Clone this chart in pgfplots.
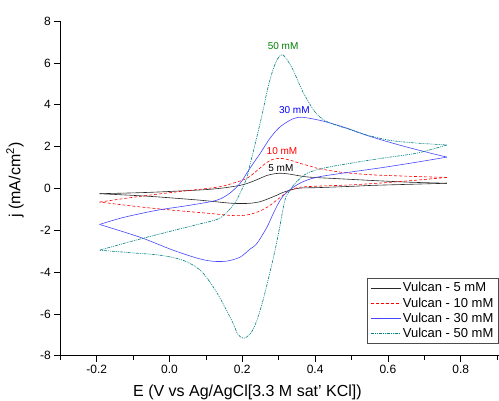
\documentclass[border=0pt]{standalone}
\usepackage{pgfplots}
\pgfplotsset{compat=1.18}
\usepackage{fontspec}
\setmainfont{Liberation Sans}
\definecolor{cvteal}{RGB}{0,128,128}
\definecolor{cvgreen}{RGB}{0,128,0}
\definecolor{cvblue}{RGB}{70,70,255}
\definecolor{cvblack}{RGB}{40,40,40}
\begin{document}
\begin{tikzpicture}
\begin{axis}[
  x=364pt, y=20.92pt,
  xmin=-0.3, xmax=1.0, ymin=-8, ymax=8,
  axis x line=bottom, axis y line=left,
  axis line style={-, line width=1pt, black},
  xtick={-0.2,0,0.2,0.4,0.6,0.8},
  minor xtick={-0.3,-0.1,0.1,0.3,0.5,0.7,0.9},
  ytick={-8,-6,-4,-2,0,2,4,6,8},
  tick align=outside,
  major tick length=6pt, minor tick length=4pt,
  tick style={line width=0.8pt, black},
  xticklabel style={/pgf/number format/.cd, fixed, fixed zerofill, precision=1},
  /pgf/number format/assume math mode=true,
  ticklabel style={font=\fontsize{12}{14}\selectfont},
  xlabel={E (V vs Ag/AgCl[3.3 M sat' KCl])},
  ylabel={j (mA/cm\textsuperscript{2})},
  xlabel style={at={(axis description cs:0.3954,-0.1206)}, anchor=base, font=\fontsize{16}{19}\selectfont},
  ylabel style={at={(axis description cs:-0.0958,0.525)}, anchor=center, font=\fontsize{16}{19}\selectfont},
  legend style={at={(axis description cs:0.6482,0.2319)}, anchor=north west,
    draw=black!70, font=\fontsize{13}{15}\selectfont, row sep=0.3pt},
  legend cell align=left,
  legend image code/.code={\draw[#1] plot coordinates {(0pt,0pt) (15pt,0pt) (30pt,0pt)};},
]
% 5 mM
\addplot[color=cvblack, line width=0.6pt, smooth] coordinates {
(-0.192,-0.25) (-0.1,-0.21) (-0.034,-0.17) (0.05,-0.1) (0.103,-0.05) (0.15,0.03) (0.194,0.15) (0.215,0.25) (0.24,0.42) (0.267,0.62) (0.29,0.71) (0.304,0.73) (0.325,0.7) (0.359,0.6) (0.386,0.54) (0.45,0.48) (0.56,0.38) (0.66,0.3) (0.762,0.25)};
\addlegendentry{Vulcan - 5 mM}
\addplot[color=cvblack, line width=0.6pt, smooth, forget plot] coordinates {
(0.762,0.25) (0.66,0.2) (0.56,0.15) (0.496,0.1) (0.405,0.04) (0.359,0.02) (0.331,-0.08) (0.31,-0.2) (0.295,-0.32) (0.27,-0.5) (0.249,-0.63) (0.225,-0.7) (0.202,-0.72) (0.166,-0.7) (0.084,-0.56) (-0.034,-0.4) (-0.1,-0.33) (-0.192,-0.25)};
% 10 mM
\addplot[color=red, line width=0.6pt, smooth, dash pattern=on 3pt off 2pt] coordinates {
(-0.192,-0.65) (-0.1,-0.42) (0.01,-0.18) (0.13,0.06) (0.174,0.25) (0.213,0.49) (0.24,0.85) (0.26,1.15) (0.28,1.37) (0.304,1.44) (0.33,1.36) (0.359,1.2) (0.386,1.07) (0.405,0.97) (0.45,0.83) (0.496,0.73) (0.56,0.65) (0.587,0.63) (0.68,0.57) (0.762,0.53)};
\addlegendentry{Vulcan - 10 mM}
\addplot[color=red, line width=0.6pt, smooth, dash pattern=on 3pt off 2pt, forget plot] coordinates {
(0.762,0.53) (0.68,0.4) (0.587,0.27) (0.496,0.17) (0.405,0.11) (0.359,0.06) (0.331,-0.08) (0.31,-0.35) (0.29,-0.62) (0.27,-0.88) (0.245,-1.1) (0.22,-1.24) (0.2,-1.29) (0.17,-1.29) (0.103,-1.18) (0.01,-1.04) (-0.081,-0.88) (-0.192,-0.65)};
% 30 mM
\addplot[color=cvblue, line width=0.6pt, smooth] coordinates {
(-0.192,-1.72) (-0.128,-1.39) (-0.034,-1.04) (0.056,-0.8) (0.13,-0.56) (0.166,-0.22) (0.194,0.25) (0.213,0.75) (0.232,1.25) (0.25,1.7) (0.276,2.4) (0.304,2.95) (0.339,3.33) (0.367,3.4) (0.422,3.22) (0.488,2.88) (0.545,2.52) (0.635,2.06) (0.717,1.69) (0.762,1.5)};
\addlegendentry{Vulcan - 30 mM}
\addplot[color=cvblue, line width=0.6pt, smooth, forget plot] coordinates {
(0.762,1.5) (0.68,1.26) (0.585,1.0) (0.495,0.78) (0.405,0.54) (0.358,0.25) (0.322,-0.18) (0.304,-0.56) (0.285,-1.2) (0.268,-1.84) (0.24,-2.63) (0.221,-2.9) (0.194,-3.28) (0.158,-3.47) (0.12,-3.48) (0.08,-3.35) (0.01,-2.95) (-0.081,-2.33) (-0.192,-1.72)};
% 50 mM
\addplot[color=cvteal, line width=0.6pt, smooth, dash pattern=on 3pt off 1pt on 1pt off 1pt on 1pt off 1pt] coordinates {
(-0.192,-2.95) (-0.099,-2.5) (0.001,-2.05) (0.07,-1.75) (0.138,-1.42) (0.175,-0.8) (0.186,-0.5) (0.2,0.0) (0.213,0.55) (0.222,1.2) (0.24,2.47) (0.257,3.74) (0.27,4.8) (0.284,5.66) (0.297,6.2) (0.31,6.4) (0.325,6.1) (0.34,5.65) (0.355,5.05) (0.37,4.5) (0.4,3.65) (0.432,3.2) (0.495,2.82) (0.542,2.56) (0.606,2.3) (0.68,2.17) (0.762,2.08)};
\addlegendentry{Vulcan - 50 mM}
\addplot[color=cvteal, line width=0.6pt, smooth, dash pattern=on 3pt off 1pt on 1pt off 1pt on 1pt off 1pt, forget plot] coordinates {
(0.762,2.08) (0.68,1.69) (0.585,1.45) (0.495,1.2) (0.422,0.97) (0.378,0.73) (0.349,0.32) (0.331,-0.08) (0.317,-0.56) (0.30,-2.1) (0.288,-3.1) (0.276,-4.0) (0.256,-5.4) (0.238,-6.4) (0.222,-6.95) (0.203,-7.16) (0.187,-6.95) (0.175,-6.45) (0.147,-5.5) (0.12,-4.7) (0.084,-3.9) (0.037,-3.43) (-0.026,-3.19) (-0.1,-3.08) (-0.192,-2.95)};
% labels
\node[font=\fontsize{10}{12}\selectfont, text=cvgreen] at (axis cs:0.312,6.81) {50 mM};
\node[font=\fontsize{10}{12}\selectfont, text=blue] at (axis cs:0.343,3.74) {30 mM};
\node[font=\fontsize{10}{12}\selectfont, text=red] at (axis cs:0.309,1.78) {10 mM};
\node[font=\fontsize{10}{12}\selectfont, text=black] at (axis cs:0.306,0.96) {5 mM};
\coordinate (bbBL) at (axis cs:-0.4657,-10.129);
\coordinate (bbTR) at (axis cs:0.9052,9.010);
\end{axis}
\pgfresetboundingbox
\useasboundingbox (bbBL) rectangle (bbTR);
\end{tikzpicture}
\end{document}
